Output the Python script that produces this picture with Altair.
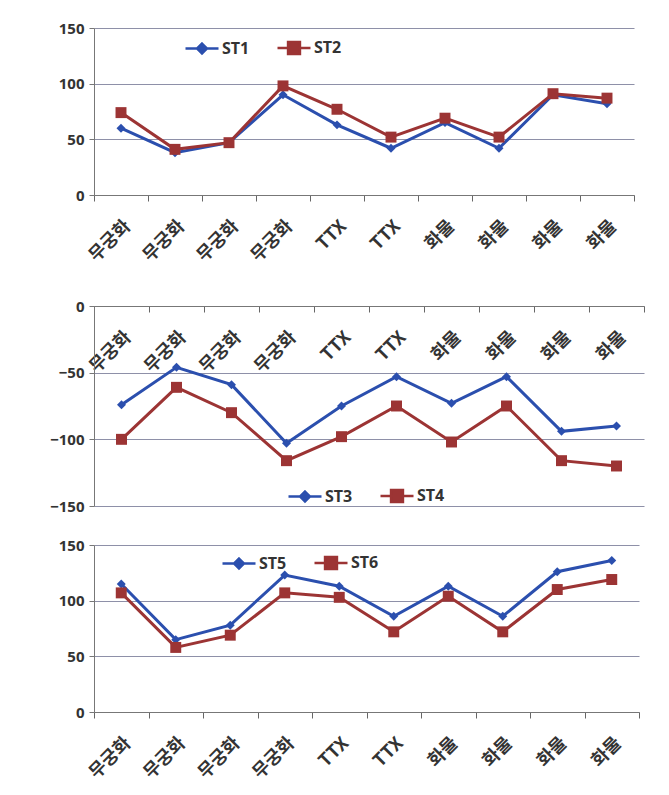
import altair as alt
import pandas as pd

categories = ["무궁화", "무궁화", "무궁화", "무궁화", "TTX", "TTX", "화물", "화물", "화물", "화물"]
st1 = [60, 38, 47, 90, 63, 42, 65, 42, 90, 82]
st2 = [74, 41, 47, 98, 77, 52, 69, 52, 91, 87]
st3 = [-74, -46, -59, -103, -75, -53, -73, -53, -94, -90]
st4 = [-100, -61, -80, -116, -98, -75, -102, -75, -116, -120]
st5 = [115, 65, 78, 123, 113, 86, 113, 86, 126, 136]
st6 = [107, 58, 69, 107, 103, 72, 104, 72, 110, 119]

BLUE = "#2B4FAE"
RED = "#9C3434"
LFONT = "Open Sans"
KFONT = "Noto Sans CJK KR"
TXT = "#333333"
GRID = "#8E90A8"

label_expr = "[" + ",".join("'%s'" % c for c in categories) + "][datum.value]"

LEG_DIAMOND = "M-1,0L1,0M0,-0.3L0.3,0L0,0.3L-0.3,0Z"
LEG_SQUARE = "M-1,0L1,0M-0.36,-0.36L0.36,-0.36L0.36,0.36L-0.36,0.36Z"


def make_df(a_name, a_vals, b_name, b_vals):
    rows = []
    for name, vals in ((a_name, a_vals), (b_name, b_vals)):
        for i, v in enumerate(vals):
            rows.append({"idx": i, "series": name, "value": v})
    return pd.DataFrame(rows)


def panel(a_name, a_vals, b_name, b_vals, width, height, domain, ticks,
          axis_offset, legend_x, legend_y):
    df = make_df(a_name, a_vals, b_name, b_vals)
    names = [a_name, b_name]
    x = alt.X(
        "idx:O",
        scale=alt.Scale(type="band", paddingInner=0, paddingOuter=0),
        axis=alt.Axis(
            title=None, labelExpr=label_expr, labelAngle=-45, tickBand="extent",
            offset=axis_offset, grid=False, labelFont=KFONT, labelFontSize=18,
            labelFontWeight="bold", labelColor=TXT, tickSize=6, tickColor="#666",
            domainColor="#777", labelPadding=16,
        ),
    )
    y = alt.Y(
        "value:Q",
        scale=alt.Scale(domain=domain, nice=False, zero=False),
        axis=alt.Axis(
            title=None, values=ticks, grid=True, gridColor=GRID, gridWidth=1.2,
            labelFont=LFONT, labelFontSize=15, labelFontWeight="bold",
            labelColor=TXT, tickSize=5, tickColor="#777", domainColor="#777",
            labelPadding=5,
        ),
    )
    base = alt.Chart(df)
    la = base.transform_filter(alt.datum.series == a_name).mark_line(
        strokeWidth=3, color=BLUE).encode(x=x, y=y)
    lb = base.transform_filter(alt.datum.series == b_name).mark_line(
        strokeWidth=3, color=RED).encode(x=x, y=y)
    pa = base.transform_filter(alt.datum.series == a_name).mark_point(
        filled=True, shape="diamond", size=80, opacity=1, color=BLUE
    ).encode(x=x, y=y)
    pb = base.transform_filter(alt.datum.series == b_name).mark_point(
        filled=True, shape="square", size=120, opacity=1, color=RED
    ).encode(x=x, y=y)

    def leg():
        return alt.Legend(
            title=None, orient="none", direction="horizontal",
            legendX=legend_x, legendY=legend_y, symbolSize=1089,
            symbolStrokeWidth=2.5, symbolOpacity=1, labelFont=LFONT,
            labelFontSize=16, labelFontWeight="bold", labelColor=TXT,
            columnPadding=22, labelOffset=2,
        )

    legl = base.mark_point(filled=True, opacity=0, strokeWidth=2.5).encode(
        x=x, y=y,
        color=alt.Color("series:N", scale=alt.Scale(domain=names, range=[BLUE, RED]), legend=leg()),
        stroke=alt.Stroke("series:N", scale=alt.Scale(domain=names, range=[BLUE, RED]), legend=leg()),
        shape=alt.Shape("series:N", scale=alt.Scale(domain=names, range=[LEG_DIAMOND, LEG_SQUARE]), legend=leg()),
    )
    return alt.layer(la, lb, pa, pb, legl).properties(width=width, height=height)


p1 = panel("ST1", st1, "ST2", st2, 540, 167, [0, 150], [0, 50, 100, 150], 0, 90, 2)
p2 = panel("ST3", st3, "ST4", st4, 550, 200, [-150, 0], [-150, -100, -50, 0], -200, 193, 172)
p3 = panel("ST5", st5, "ST6", st6, 545, 167, [0, 150], [0, 50, 100, 150], 0, 127, 0)

inner = alt.vconcat(p2, p3, spacing=24).resolve_scale(
    color="independent", stroke="independent", shape="independent")

chart = alt.vconcat(p1, inner, spacing=34).resolve_scale(
    color="independent", stroke="independent", shape="independent"
).properties(
    padding={"left": 41, "top": 13, "right": 5, "bottom": 5}
).configure_view(stroke=None)

chart.save("out.html", embed_options={"renderer": "svg", "actions": False})
